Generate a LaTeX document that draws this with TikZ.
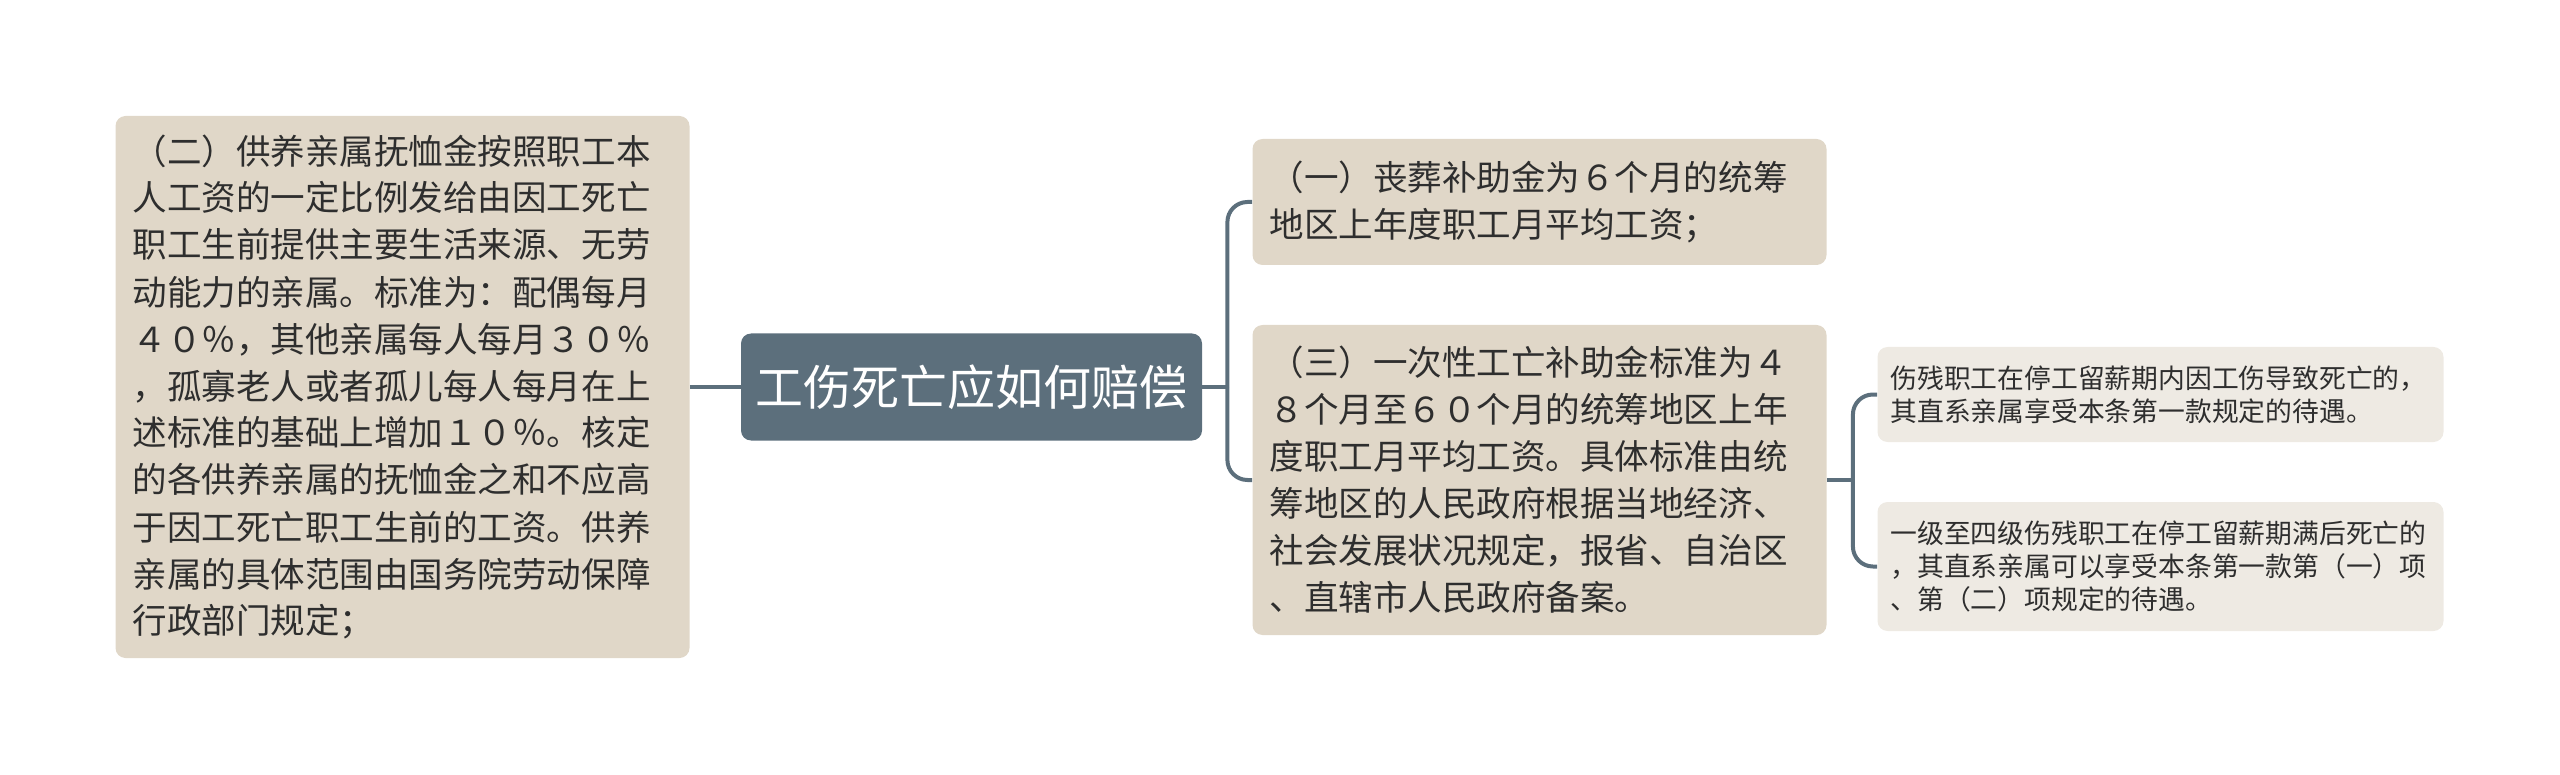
\documentclass[tikz,border=0pt]{standalone}
\usepackage{fontspec}
\newfontfamily\cjk{Noto Sans CJK SC}
\usetikzlibrary{shapes,positioning,calc}
\definecolor{slate}{HTML}{5C6F7C}
\definecolor{sand}{HTML}{E0D7C8}
\definecolor{pale}{HTML}{EEEAE3}
\definecolor{ink}{HTML}{2E2E2E}

\begin{document}
\begin{tikzpicture}[x=0.5pt,y=-0.5pt,
						every node/.style={rounded corners=5pt, inner sep=0pt},
						topic/.style={fill=slate, text=white, font=\cjk\fontsize{24pt}{28pt}\selectfont, minimum width=230.5pt, minimum height=53.5pt},
						item/.style={fill=sand, text=ink, align=left, text width=270pt, inner xsep=8.5pt, font=\cjk\fontsize{17.27pt}{23.5pt}\selectfont},
						note/.style={fill=pale, text=ink, align=left, text width=270pt, inner xsep=6.5pt, font=\cjk\fontsize{13.4pt}{16.5pt}\selectfont},
						link/.style={draw=slate, line width=2pt, rounded corners=10pt}]
				\useasboundingbox (0,0) rectangle (2560,775);
				\node[item, minimum height=271pt] (rule2) at (402.5,387) {（二）供养亲属抚恤金按照职工本\\人工资的一定比例发给由因工死亡\\职工生前提供主要生活来源、无劳\\动能力的亲属。标准为：配偶每月\\４０％，其他亲属每人每月３０％\\，孤寡老人或者孤儿每人每月在上\\述标准的基础上增加１０％。核定\\的各供养亲属的抚恤金之和不应高\\于因工死亡职工生前的工资。供养\\亲属的具体范围由国务院劳动保障\\行政部门规定；};
				\node[topic] (root) at (971.5,387) {工伤死亡应如何赔偿};
				\node[item, minimum height=63pt] (rule1) at (1539.5,202) {（一）丧葬补助金为６个月的统筹\\地区上年度职工月平均工资；};
				\node[item, minimum height=155pt] (rule3) at (1539.5,480) {（三）一次性工亡补助金标准为４\\８个月至６０个月的统筹地区上年\\度职工月平均工资。具体标准由统\\筹地区的人民政府根据当地经济、\\社会发展状况规定，报省、自治区\\、直辖市人民政府备案。};
				\node[note, minimum height=47.5pt] (case1) at (2160.5,394.5) {伤残职工在停工留薪期内因工伤导致死亡的，\\其直系亲属享受本条第一款规定的待遇。};
				\node[note, minimum height=64.5pt] (case2) at (2160.5,566.5) {一级至四级伤残职工在停工留薪期满后死亡的\\，其直系亲属可以享受本条第一款第（一）项\\、第（二）项规定的待遇。};
				\coordinate (fork1) at ($(root.east)+(25,0)$);
				\coordinate (fork2) at ($(rule3.east)+(26,0)$);
				\draw[link] (rule2.east) -- (root.west);
				\draw[link] (root.east) -- (fork1);
				\draw[link] (fork1) |- (rule1.west);
				\draw[link] (fork1) |- (rule3.west);
				\draw[link] (rule3.east) -- (fork2);
				\draw[link] (fork2) |- (case1.west);
				\draw[link] (fork2) |- (case2.west);
\end{tikzpicture}
\end{document}
